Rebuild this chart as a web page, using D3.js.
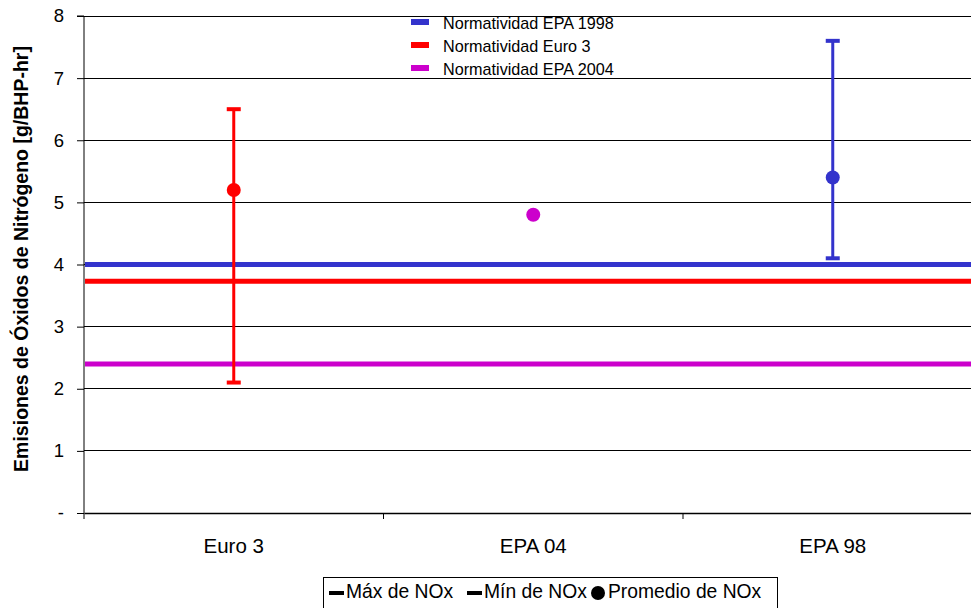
<!DOCTYPE html>
<html>
<head>
<meta charset="utf-8">
<script src="https://cdn.jsdelivr.net/npm/d3@7/dist/d3.min.js"></script>
<style>
  html, body { margin: 0; padding: 0; background: #fff; }
  svg { display: block; font-family: Arial, "Liberation Sans", sans-serif; }
</style>
</head>
<body>
<svg id="chart" width="971" height="608"></svg>
<script>
// Engine groups on the x axis
const categories = ["Euro 3", "EPA 04", "EPA 98"];
// NOx emissions per group [g/BHP-hr]
const maxNOx = [6.5, 4.8, 7.6];
const minNOx = [2.1, 4.8, 4.1];
const meanNOx = [5.2, 4.8, 5.4];
const groupColors = ["#ff0000", "#cc00cc", "#3333cc"];
// Regulatory limits drawn as horizontal reference lines
const limitNames = ["Normatividad EPA 1998", "Normatividad Euro 3", "Normatividad EPA 2004"];
const limitValues = [4.0, 3.73, 2.4];
const limitColors = ["#3333cc", "#ff0000", "#cc00cc"];
// Y axis ticks
const yTicks = [0, 1, 2, 3, 4, 5, 6, 7, 8];
const yTickLabels = ["-", "1", "2", "3", "4", "5", "6", "7", "8"];

const svg = d3.select("#chart");
const plotL = 84, plotR = 982.5, plotT = 16, plotB = 513;
const FONT = "Arial, 'Liberation Sans', sans-serif";

const x = d3.scaleBand().domain(categories).range([plotL, plotR]);
const y = d3.scaleLinear().domain([0, 8]).range([plotB, plotT]);

// Horizontal gridlines
svg.append("g")
  .selectAll("line")
  .data(yTicks.filter(d => d > 0))
  .join("line")
  .attr("x1", plotL).attr("x2", plotR)
  .attr("y1", d => y(d)).attr("y2", d => y(d))
  .attr("stroke", "#000").attr("stroke-width", 1)
  .attr("shape-rendering", "crispEdges");

// Y axis
const yAxis = svg.append("g")
  .attr("transform", `translate(${plotL},0)`)
  .call(d3.axisLeft(y).tickValues(yTicks)
    .tickFormat((d, i) => yTickLabels[i]).tickSize(7).tickPadding(13));
yAxis.select(".domain").attr("stroke", "#000").attr("d", `M-7,${plotT}H0V${plotB}`);
yAxis.selectAll(".tick line").attr("stroke", "#000");
yAxis.selectAll(".tick text").attr("font-size", 18.5).attr("fill", "#000")
  .attr("font-family", FONT);

// X axis
const xAxis = svg.append("g")
  .attr("transform", `translate(0,${plotB})`)
  .call(d3.axisBottom(x).tickSize(0).tickPadding(0));
xAxis.select(".domain").attr("stroke", "#000").attr("stroke-width", 1.5);
xAxis.selectAll(".tick text")
  .attr("y", 40).attr("dy", 0)
  .attr("font-size", 20.5).attr("fill", "#000")
  .attr("font-family", FONT);
// Category separator ticks
svg.append("g")
  .selectAll("line")
  .data(categories)
  .join("line")
  .attr("x1", d => x(d)).attr("x2", d => x(d))
  .attr("y1", plotB).attr("y2", plotB + 6)
  .attr("stroke", "#000");

// Y axis title
svg.append("text")
  .attr("transform", `translate(28,259) rotate(-90)`)
  .attr("text-anchor", "middle")
  .attr("font-size", 19.5).attr("font-weight", "bold")
  .text("Emisiones de Óxidos de Nitrógeno [g/BHP-hr]");

// Regulatory limit lines
svg.append("g")
  .selectAll("line")
  .data(limitValues)
  .join("line")
  .attr("x1", plotL + 1).attr("x2", plotR)
  .attr("y1", d => y(d)).attr("y2", d => y(d))
  .attr("stroke", (d, i) => limitColors[i]).attr("stroke-width", 5);

// Min–max ranges with caps and mean markers
const groups = svg.append("g")
  .selectAll("g")
  .data(categories)
  .join("g")
  .attr("transform", d => `translate(${x(d) + x.bandwidth() / 2},0)`);

groups.filter((d, i) => maxNOx[i] !== minNOx[i]).each(function (d) {
  const i = categories.indexOf(d);
  const g = d3.select(this);
  const c = groupColors[i];
  g.append("line")
    .attr("y1", y(maxNOx[i])).attr("y2", y(minNOx[i]))
    .attr("stroke", c).attr("stroke-width", 3);
  [maxNOx[i], minNOx[i]].forEach(v => {
    g.append("line")
      .attr("x1", -7).attr("x2", 7)
      .attr("y1", y(v)).attr("y2", y(v))
      .attr("stroke", c).attr("stroke-width", 4);
  });
});

groups.append("circle")
  .attr("cy", (d, i) => y(meanNOx[i]))
  .attr("r", 7)
  .attr("fill", (d, i) => groupColors[i]);

// Legend for limit lines
const topLegend = svg.append("g");
limitNames.forEach((name, i) => {
  const base = [29, 52, 75][i];
  topLegend.append("rect")
    .attr("x", 411).attr("y", base - 10).attr("width", 18).attr("height", 6)
    .attr("fill", limitColors[i]);
  topLegend.append("text")
    .attr("x", 443).attr("y", base)
    .attr("font-size", 16.2)
    .text(name);
});

// Legend for the range series
const bottomLegend = svg.append("g");
bottomLegend.append("rect")
  .attr("x", 323.5).attr("y", 577.5).attr("width", 454).attr("height", 40)
  .attr("fill", "#fff").attr("stroke", "#000").attr("stroke-width", 1);
const legItems = [
  { label: "Máx de NOx", kind: "dash", x: 329 },
  { label: "Mín de NOx", kind: "dash", x: 467 },
  { label: "Promedio de NOx", kind: "dot", x: 591 }
];
legItems.forEach(it => {
  if (it.kind === "dash") {
    bottomLegend.append("rect")
      .attr("x", it.x).attr("y", 591).attr("width", 15).attr("height", 4)
      .attr("fill", "#000");
  } else {
    bottomLegend.append("circle")
      .attr("cx", it.x + 7).attr("cy", 593).attr("r", 7).attr("fill", "#000");
  }
  bottomLegend.append("text")
    .attr("x", it.x + 17).attr("y", 598).attr("font-size", 19.3).text(it.label);
});
</script>
</body>
</html>
